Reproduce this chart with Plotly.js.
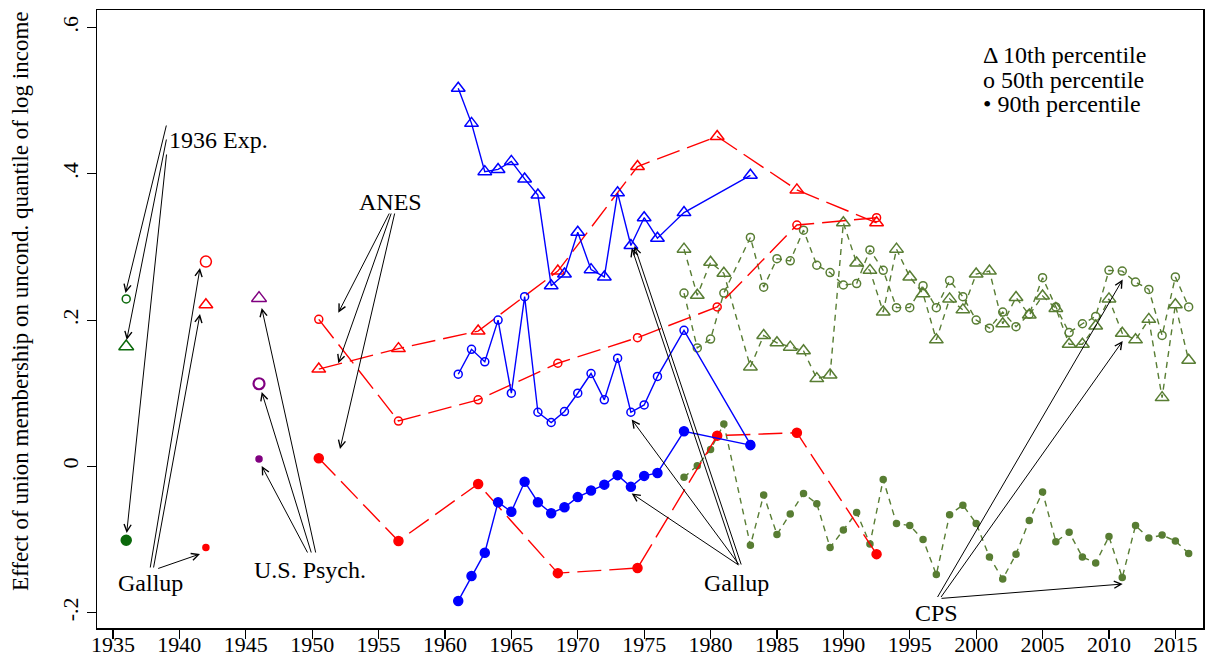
<!DOCTYPE html>
<html>
<head>
<meta charset="utf-8">
<script src="https://cdn.plot.ly/plotly-3.0.1.min.js"></script>
<style>html,body{margin:0;padding:0;background:#fff;}#chart{width:1208px;height:666px;}</style>
</head>
<body>
<div id="chart"></div>
<script>
// ---- Data ----
// Gallup (blue, solid)
const gallupYears = [1961,1962,1963,1964,1965,1966,1967,1968,1969,1970,1971,1972,1973,1974,1975,1976,1978,1983];
const gallupP10 = [0.517,0.469,0.403,0.406,0.417,0.393,0.371,0.247,0.263,0.320,0.269,0.259,0.374,0.302,0.340,0.312,0.347,0.398];
const gallupP50 = [0.126,0.160,0.143,0.200,0.100,0.232,0.074,0.060,0.075,0.100,0.127,0.091,0.148,0.074,0.084,0.123,0.186,0.030];
const gallupP90 = [-0.184,-0.150,-0.118,-0.049,-0.062,-0.021,-0.049,-0.064,-0.056,-0.042,-0.033,-0.025,-0.012,-0.028,-0.013,-0.009,0.048,0.029];

// ANES (red, long dash)
const anesYears = [1950.5,1956.5,1962.5,1968.5,1974.5,1980.5,1986.5,1992.5];
const anesP10 = [0.133,0.161,0.185,0.267,0.410,0.451,0.378,0.333];
const anesP50 = [0.201,0.062,0.091,0.141,0.176,0.218,0.330,0.340];
const anesP90 = [0.011,-0.102,-0.024,-0.146,-0.139,0.042,0.046,-0.120];

// CPS (olive, short dash)
const cpsYears = [1978,1979,1980,1981,1983,1984,1985,1986,1987,1988,1989,1990,1991,1992,1993,1994,1995,1996,1997,1998,1999,2000,2001,2002,2003,2004,2005,2006,2007,2008,2009,2010,2011,2012,2013,2014,2015,2016];
const cpsP10 = [0.297,0.234,0.279,0.264,0.136,0.179,0.169,0.163,0.158,0.120,0.125,0.333,0.278,0.268,0.211,0.297,0.259,0.236,0.173,0.229,0.214,0.263,0.267,0.195,0.231,0.207,0.233,0.216,0.167,0.167,0.192,0.229,0.182,0.173,0.201,0.094,0.221,0.145];
const cpsP50 = [0.237,0.162,0.174,0.237,0.313,0.245,0.284,0.281,0.323,0.275,0.265,0.248,0.250,0.296,0.268,0.217,0.217,0.247,0.217,0.254,0.232,0.200,0.189,0.211,0.191,0.208,0.258,0.218,0.183,0.195,0.205,0.268,0.267,0.252,0.242,0.179,0.259,0.218];
const cpsP90 = [-0.015,0.001,0.023,0.058,-0.108,-0.039,-0.093,-0.065,-0.037,-0.051,-0.111,-0.087,-0.063,-0.106,-0.018,-0.078,-0.081,-0.100,-0.148,-0.066,-0.053,-0.078,-0.124,-0.154,-0.120,-0.074,-0.035,-0.103,-0.090,-0.124,-0.132,-0.096,-0.152,-0.081,-0.098,-0.094,-0.102,-0.119];

// Single-year surveys: [p10, p50, p90]
const exp1936Year = [1936];
const exp1936 = [0.164, 0.229, -0.101];
const gallup1942Year = [1942];
const gallup1942 = [0.221, 0.280, -0.111];
const psych1946Year = [1946];
const psych1946 = [0.230, 0.113, 0.010];

// Axis ticks
const xTicks = [1935,1940,1945,1950,1955,1960,1965,1970,1975,1980,1985,1990,1995,2000,2005,2010,2015];
const yTicks = [-0.2,0,0.2,0.4,0.6];
const yTickText = ['-.2','0','.2','.4','.6'];

// ---- Styles ----
const BLUE = '#0000ff', RED = '#ff0000', OLIVE = '#587d33', DKGREEN = '#0b690b', PURPLE = '#800080';
const FONT = '"Liberation Serif", "Times New Roman", Times, serif';

function series(x, y, color, dash, symbol, size, lw) {
  return {
    x: x, y: y, type: 'scatter', mode: dash === null ? 'markers' : 'lines+markers',
    line: {color: color, width: 1.4, dash: dash || 'solid'},
    marker: {symbol: symbol, size: size, color: color, line: {color: color, width: lw || 1.5}},
    hoverinfo: 'skip', showlegend: false, cliponaxis: false
  };
}
const OLIVE_DASH = '6px,5px';
const RED_DASH = '24px,8px';

const traces = [
  series(cpsYears, cpsP10, OLIVE, OLIVE_DASH, 'triangle-up-open', 12),
  series(cpsYears, cpsP50, OLIVE, OLIVE_DASH, 'circle-open', 8),
  series(cpsYears, cpsP90, OLIVE, OLIVE_DASH, 'circle', 6),
  series(anesYears, anesP10, RED, RED_DASH, 'triangle-up-open', 12),
  series(anesYears, anesP50, RED, RED_DASH, 'circle-open', 8),
  series(anesYears, anesP90, RED, RED_DASH, 'circle', 9),
  series(gallupYears, gallupP10, BLUE, 'solid', 'triangle-up-open', 12),
  series(gallupYears, gallupP50, BLUE, 'solid', 'circle-open', 8),
  series(gallupYears, gallupP90, BLUE, 'solid', 'circle', 9),
  series(exp1936Year, [exp1936[0]], DKGREEN, null, 'triangle-up-open', 13),
  series(exp1936Year, [exp1936[1]], DKGREEN, null, 'circle-open', 8),
  series(exp1936Year, [exp1936[2]], DKGREEN, null, 'circle', 10),
  series(gallup1942Year, [gallup1942[0]], RED, null, 'triangle-up-open', 12),
  series(gallup1942Year, [gallup1942[1]], RED, null, 'circle-open', 11),
  series(gallup1942Year, [gallup1942[2]], RED, null, 'circle', 6),
  series(psych1946Year, [psych1946[0]], PURPLE, null, 'triangle-up-open', 13),
  series(psych1946Year, [psych1946[1]], PURPLE, null, 'circle-open', 11, 2.2),
  series(psych1946Year, [psych1946[2]], PURPLE, null, 'circle', 6)
];

// pixel helpers for annotation placement (in the 1208x666 frame)
const X0 = 1933.8, X1 = 2017.08, Y0 = -0.221, Y1 = 0.624;
const L = 97, R = 5, T = 10, B = 38, W = 1208, H = 666;
const px2x = p => X0 + (p - L) / (W - L - R) * (X1 - X0);
const py2y = p => Y1 - (p - T) / (H - T - B) * (Y1 - Y0);

function arrow(tx, ty, hx, hy) {
  return {
    x: px2x(hx), y: py2y(hy), ax: px2x(tx), ay: py2y(ty),
    xref: 'x', yref: 'y', axref: 'x', ayref: 'y',
    text: '', showarrow: true, arrowhead: 5, arrowsize: 1.4, arrowwidth: 1,
    arrowcolor: '#000', standoff: 0, startstandoff: 0
  };
}
function label(text, px, py, anchor) {
  return {
    x: px2x(px), y: py2y(py), xref: 'x', yref: 'y', text: text, showarrow: false,
    xanchor: anchor || 'center', yanchor: 'middle',
    font: {family: FONT, size: 24, color: '#000'}
  };
}
function keyLine(text, py) {
  return {x: (981 - L) / (W - L - R), y: 1 - (py - T) / (H - T - B), xref: 'paper', yref: 'paper',
    showarrow: false, xanchor: 'left', yanchor: 'middle', text: text,
    font: {family: FONT, size: 24, color: '#000'}};
}

const annotations = [
  label('1936 Exp.', 167, 140, 'left'),
  arrow(166.7, 124, 125.5, 293),
  arrow(166.7, 138, 126.7, 340),
  arrow(166.7, 153, 126.7, 533),

  label('Gallup', 150, 583),
  arrow(150, 569, 200, 268),
  arrow(153.3, 569, 200, 314),
  arrow(156.7, 569, 200, 554),

  label('U.S. Psych.', 310, 570),
  arrow(316, 554, 261.7, 308),
  arrow(311.7, 554, 261.7, 392),
  arrow(308.3, 554, 261.7, 466),

  label('ANES', 390, 202),
  arrow(390, 212, 338.3, 312.7),
  arrow(391.7, 212, 338.3, 363.3),
  arrow(395, 212, 340, 449),

  label('Gallup', 736.7, 583),
  arrow(738.3, 566, 631.7, 248),
  arrow(741.7, 566, 634.5, 246),
  arrow(740, 566, 631.7, 419.5),
  arrow(740, 566, 631.7, 493.5),

  label('CPS', 936, 613),
  arrow(936.7, 598.5, 1122.7, 279.5),
  arrow(940, 598.5, 1122.7, 341),
  arrow(940, 598.5, 1122.7, 584),

  // key text
  keyLine('Δ 10th percentile', 55),
  keyLine('o 50th percentile', 80),
  keyLine('• 90th percentile', 104),

  // y axis title
  {x: (20 - L) / (W - L - R), y: 1 - (301 - T) / (H - T - B), xref: 'paper', yref: 'paper', showarrow: false,
   xanchor: 'center', yanchor: 'middle', textangle: -90,
   text: 'Effect of union membership on uncond. quantile of log income',
   font: {family: FONT, size: 23, color: '#000'}}
];

const layout = {
  width: W, height: H,
  margin: {l: L, r: R, t: T, b: B, pad: 0},
  paper_bgcolor: '#fff', plot_bgcolor: '#fff',
  showlegend: false,
  font: {family: FONT, color: '#000'},
  xaxis: {
    range: [X0, X1], tickvals: xTicks, ticks: 'outside', ticklen: 9, tickwidth: 1.2, tickcolor: '#000',
    ticklabelstandoff: -13,
    showline: true, mirror: true, linecolor: '#000', linewidth: 1.5,
    showgrid: false, zeroline: false, fixedrange: true,
    tickfont: {family: FONT, size: 22, color: '#000'}
  },
  yaxis: {
    range: [Y0, Y1], tickvals: yTicks, ticktext: yTickText, tickangle: -90,
    ticks: 'outside', ticklen: 9, tickwidth: 1.2, tickcolor: '#000',
    showline: true, mirror: true, linecolor: '#000', linewidth: 1.5,
    showgrid: false, zeroline: false, fixedrange: true,
    tickfont: {family: FONT, size: 22, color: '#000'}
  },
  annotations: annotations
};

Plotly.newPlot('chart', traces, layout, {staticPlot: true, displayModeBar: false});
</script>
</body>
</html>
